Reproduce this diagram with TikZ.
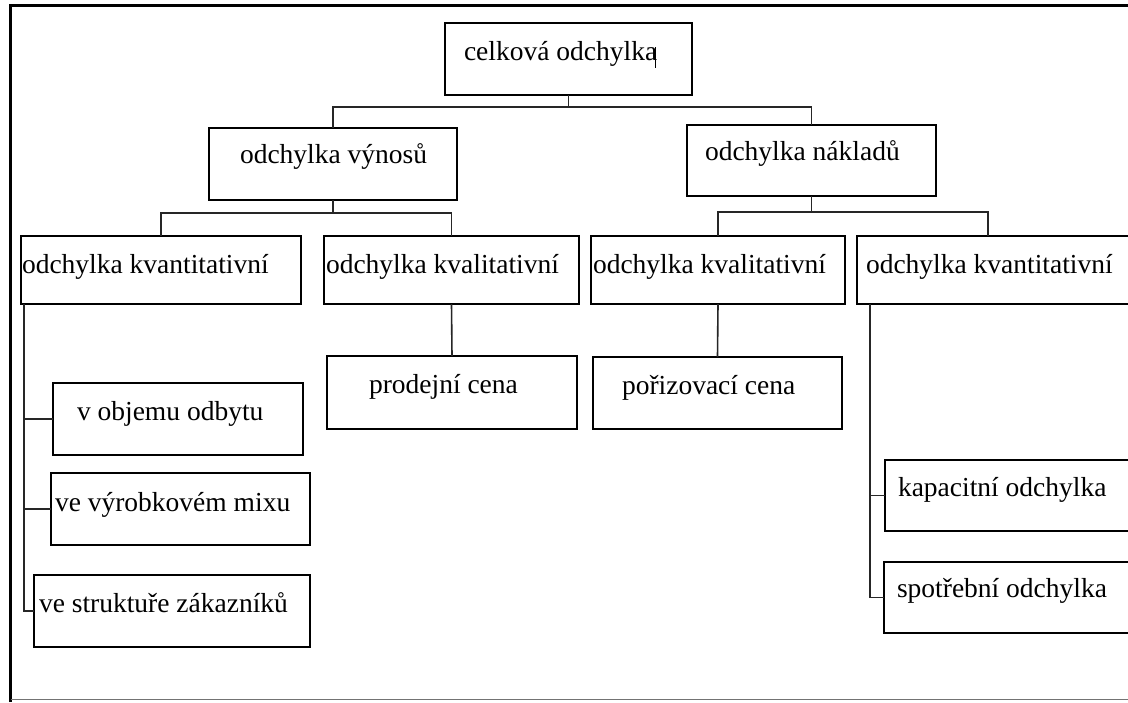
\documentclass[tikz,border=0pt]{standalone}
\usepackage{fontspec}
\setmainfont{Liberation Serif}
\usetikzlibrary{calc}
\begin{document}
\begin{tikzpicture}[x=1pt,y=-1pt,
  box/.style={draw, line width=2.4pt, rectangle, inner sep=0pt, outer sep=0pt, anchor=north west},
  txt/.style={inner sep=0pt, outer sep=0pt, anchor=base west, font=\fontsize{27.5}{30}\selectfont},
  conn/.style={line width=1.6pt, draw=black!85},
  frame/.style={line width=3.8pt, draw=black}]
\useasboundingbox (0,0) rectangle (1128,702);
\clip (0,0) rectangle (1128,702);
\fill[white] (0,0) rectangle (1128,702);
% outer frame
\draw[frame] (10.5,702) -- (10.5,5.5) -- (1128,5.5);
\draw[line width=1.6pt, draw=black!55] (10.5,699.5) -- (1128,699.5);
% boxes
\node[box, minimum width=247pt, minimum height=72pt] (root) at (445,23) {};
\node[box, minimum width=248pt, minimum height=72pt] (vyn) at (209,128) {};
\node[box, minimum width=249pt, minimum height=71pt] (nak) at (687,125) {};
\node[box, minimum width=280pt, minimum height=68pt] (kvl) at (21,236) {};
\node[box, minimum width=255pt, minimum height=68pt] (kql) at (324,236) {};
\node[box, minimum width=254pt, minimum height=68pt] (kqr) at (591,236) {};
\node[box, minimum width=290pt, minimum height=68pt] (kvr) at (857,236) {};
\node[box, minimum width=250pt, minimum height=73pt] (pro) at (327,356) {};
\node[box, minimum width=249pt, minimum height=72pt] (por) at (593,357) {};
\node[box, minimum width=250pt, minimum height=72pt] (obj) at (53,383) {};
\node[box, minimum width=259pt, minimum height=72pt] (mix) at (51,473) {};
\node[box, minimum width=276pt, minimum height=72pt] (str) at (34,575) {};
\node[box, minimum width=260pt, minimum height=71pt] (kap) at (885,460) {};
\node[box, minimum width=260pt, minimum height=71pt] (spo) at (884,562) {};
% texts
\node[txt] (t-root) at (464,60) {celková odchylka};
\node[txt] (t-vyn) at (240,163) {odchylka výnosů};
\node[txt] (t-nak) at (705,160) {odchylka nákladů};
\node[txt] (t-kvl) at (22,273) {odchylka kvantitativní};
\node[txt] (t-kql) at (326,273) {odchylka kvalitativní};
\node[txt] (t-kqr) at (593,273) {odchylka kvalitativní};
\node[txt] (t-kvr) at (866,273) {odchylka kvantitativní};
\node[txt] (t-pro) at (369,393) {prodejní cena};
\node[txt] (t-por) at (622,394) {pořizovací cena};
\node[txt] (t-obj) at (77,420) {v objemu odbytu};
\node[txt] (t-mix) at (55,511) {ve výrobkovém mixu};
\node[txt] (t-str) at (39,612) {ve struktuře zákazníků};
\node[txt] (t-kap) at (898,496) {kapacitní odchylka};
\node[txt] (t-spo) at (897,597) {spotřební odchylka};
% text cursor mark
\draw[line width=0.8pt] (655,47) -- (655,68);
% connectors level 1
\coordinate (j1) at ($(root.south)+(0,12)$);
\draw[conn] (root.south) -- (j1);
\draw[conn] (vyn.north) |- (j1) -| (nak.north);
% level 2
\coordinate (j2) at ($(vyn.south)+(0,13)$);
\draw[conn] (vyn.south) -- (j2);
\draw[conn] (kvl.north) |- (j2) -| (kql.north);
\coordinate (j3) at ($(nak.south)+(0,16)$);
\coordinate (kvrtop) at (988,236);
\draw[conn] (nak.south) -- (j3);
\draw[conn] (kqr.north) |- (j3) -| (kvrtop);
% level 3 to 4
\draw[conn] (kql.south) -- (pro.north);
\draw[conn] (kqr.south) -- (por.north);
% left tree
\coordinate (lt) at ($(kvl.south west)+(3,0)$);
\draw[conn] (lt) |- (str.west);
\draw[conn] (lt |- obj.west) -- (obj.west);
\draw[conn] (lt |- mix.west) -- (mix.west);
% right tree
\coordinate (rt) at ($(kvr.south west)+(13,0)$);
\draw[conn] (rt) |- (spo.west);
\draw[conn] (rt |- kap.west) -- (kap.west);
\end{tikzpicture}
\end{document}
